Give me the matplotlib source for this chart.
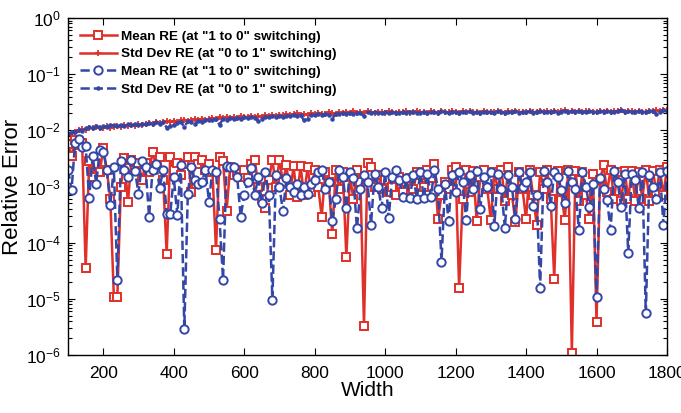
#!/usr/bin/env python3
"""Relative error of mean / std-dev vs. width for two switching directions."""

import matplotlib

matplotlib.use("Agg")
import matplotlib.pyplot as plt
import numpy as np
from matplotlib.ticker import FixedLocator, LogLocator, NullFormatter

FONT = ["Liberation Sans", "DejaVu Sans"]
plt.rcParams["font.family"] = FONT
plt.rcParams["mathtext.fontset"] = "custom"
plt.rcParams["mathtext.rm"] = "Liberation Sans"
plt.rcParams["mathtext.it"] = "Liberation Sans"

RED = "#e0302a"
BLUE = "#3446a6"

widths = np.arange(100, 1801, 10)

# values in units of 1e-3
red_mean_e3 = [
    5.6, 3.5, 6.7, 5.5, 6.0, 0.035, 2.8, 1.5, 2.5, 1.8,
    4.8, 2.0, 0.6, 0.011, 0.011, 1.0, 3.2, 0.52, 3.0, 2.0,
    2.6, 1.3, 2.6, 1.8, 4.2, 2.3, 3.4, 1.3, 0.064, 3.3,
    2.0, 2.6, 1.6, 2.5, 3.4, 0.8, 3.4, 2.5, 3.0, 2.0,
    2.5, 1.8, 0.074, 3.3, 2.9, 0.36, 2.2, 1.6, 1.8, 1.5,
    2.0, 1.4, 2.5, 3.0, 1.0, 0.6, 0.41, 1.3, 3.0, 1.0,
    3.0, 1.2, 2.4, 0.7, 2.3, 0.65, 2.3, 0.7, 2.2, 0.8,
    2.0, 1.0, 0.29, 1.8, 1.2, 0.14, 2.0, 0.9, 1.8, 0.055,
    1.5, 0.6, 2.0, 1.2, 0.0033, 2.6, 2.2, 1.0, 1.6, 0.9,
    1.3, 0.8, 1.0, 0.7, 1.5, 0.8, 1.2, 1.4, 0.9, 1.8,
    1.6, 1.0, 2.0, 1.4, 2.5, 0.26, 0.7, 1.2, 0.9, 2.0,
    2.2, 0.0155, 0.6, 2.0, 0.8, 1.9, 0.24, 1.5, 2.0, 0.9,
    0.25, 1.8, 0.9, 2.0, 0.56, 2.2, 0.7, 0.23, 1.8, 0.9,
    0.26, 2.0, 0.7, 0.21, 1.8, 0.9, 2.0, 0.6, 0.023, 1.9,
    0.8, 0.25, 2.0, 0.0011, 1.9, 0.55, 1.8, 0.7, 0.26, 1.7,
    0.0039, 1.3, 2.4, 0.8, 2.0, 0.6, 1.8, 0.55, 1.9, 0.6,
    1.9, 0.55, 1.8, 0.6, 2.0, 0.55, 1.9, 0.8, 2.0, 0.7,
    2.2,
]

blue_mean_e3 = [
    2.0, 0.87, 6.0, 7.0, 5.0, 5.2, 0.62, 3.5, 1.1, 4.5,
    4.2, 2.0, 0.47, 2.2, 0.022, 2.8, 2.0, 1.5, 3.0, 1.9,
    0.75, 2.8, 2.2, 0.29, 2.0, 2.5, 0.95, 2.0, 0.32, 0.32,
    1.5, 0.31, 2.4, 0.0029, 0.75, 2.2, 1.3, 1.1, 1.2, 2.0,
    0.54, 2.0, 1.8, 0.26, 0.022, 2.3, 2.2, 2.2, 1.5, 0.29,
    0.7, 1.2, 2.1, 0.7, 1.5, 0.5, 1.8, 0.7, 0.0097, 1.6,
    1.0, 0.36, 1.4, 1.0, 0.8, 1.1, 0.7, 1.0, 0.75, 1.1,
    1.3, 1.8, 2.0, 0.9, 1.2, 0.24, 0.6, 2.0, 1.5, 0.42,
    1.8, 1.4, 0.18, 0.9, 1.6, 1.2, 0.21, 1.7, 1.0, 0.42,
    1.8, 0.27, 1.5, 2.0, 1.3, 0.65, 1.4, 0.62, 1.6, 0.6,
    1.8, 0.62, 1.7, 0.65, 2.0, 0.9, 0.046, 1.1, 0.24, 1.6,
    0.8, 1.8, 1.2, 0.25, 1.6, 0.9, 1.9, 0.4, 1.5, 1.0,
    1.8, 0.2, 1.7, 0.9, 0.18, 1.6, 1.0, 0.26, 1.8, 1.0,
    1.2, 1.8, 0.45, 0.7, 0.0155, 1.9, 1.2, 0.45, 1.8, 1.5,
    0.85, 0.5, 1.9, 1.2, 0.9, 0.17, 1.8, 1.0, 0.43, 1.1,
    0.0107, 1.4, 0.9, 0.57, 0.17, 1.9, 1.2, 0.44, 1.7, 0.066,
    1.7, 1.3, 0.42, 1.8, 0.0055, 1.6, 1.0, 0.6, 1.8, 0.21,
    1.9,
]

# values in units of 1e-2
red_std_e2 = [
    0.83, 0.88, 0.95, 1.00, 1.05, 1.02, 1.12, 1.08, 1.15, 1.10,
    1.12, 1.18, 1.10, 1.15, 1.20, 1.13, 1.22, 1.18, 1.25, 1.20,
    1.28, 1.22, 1.30, 1.35, 1.28, 1.40, 1.33, 1.38, 1.45, 1.40,
    1.48, 1.42, 1.50, 1.55, 1.48, 1.52, 1.58, 1.50, 1.62, 1.55,
    1.60, 1.65, 1.58, 1.70, 1.63, 1.75, 1.68, 1.72, 1.65, 1.78,
    1.70, 1.75, 1.82, 1.72, 1.80, 1.76, 1.85, 1.78, 1.88, 1.82,
    1.90, 1.84, 1.95, 1.88, 1.92, 2.00, 1.90, 1.96, 1.88, 2.02,
    1.95, 2.05, 1.98, 1.92, 2.10, 2.00, 1.95, 2.08, 2.02, 2.15,
    2.05, 2.20, 2.00, 2.12, 2.05, 2.18, 2.08, 2.02, 2.15, 2.10,
    2.05, 2.18, 2.10, 2.00, 2.15, 2.08, 2.20, 2.05, 2.12, 2.18,
    2.08, 2.15, 2.02, 2.20, 2.10, 2.05, 2.18, 2.12, 2.08, 2.22,
    2.10, 2.05, 2.18, 2.12, 2.20, 2.08, 2.15, 2.05, 2.22, 2.10,
    2.15, 2.08, 2.20, 2.12, 2.05, 2.18, 2.10, 2.22, 2.08, 2.15,
    2.12, 2.20, 2.08, 2.15, 2.25, 2.10, 2.18, 2.12, 2.22, 2.08,
    2.18, 2.28, 2.12, 2.20, 2.15, 2.25, 2.10, 2.18, 2.22, 2.15,
    2.12, 2.20, 2.15, 2.25, 2.10, 2.18, 2.22, 2.30, 2.15, 2.20,
    2.18, 2.12, 2.22, 2.15, 2.10, 2.25, 2.20, 2.30, 2.18, 2.35,
    2.30,
]

blue_std_e2 = [
    0.85, 0.92, 0.95, 1.02, 0.98, 1.08, 1.15, 1.10, 1.18, 1.12,
    1.20, 1.15, 1.25, 1.22, 1.18, 1.25, 1.20, 1.28, 1.22, 1.30,
    1.25, 1.32, 1.28, 1.35, 1.30, 1.38, 1.32, 1.40, 1.12, 1.18,
    1.22, 1.35, 1.42, 1.15, 1.45, 1.40, 1.28, 1.48, 1.42, 1.50,
    1.55, 1.50, 1.58, 1.25, 1.62, 1.55, 1.65, 1.60, 1.68, 1.62,
    1.70, 1.65, 1.72, 1.68, 1.45, 1.60, 1.75, 1.70, 1.78, 1.72,
    1.80, 1.75, 1.82, 1.78, 1.85, 1.80, 1.88, 1.50, 1.62, 1.90,
    1.85, 1.92, 1.88, 1.95, 1.90, 1.62, 1.98, 1.92, 2.00, 1.95,
    2.02, 1.98, 2.05, 2.00, 1.80, 2.08, 2.02, 2.10, 2.05, 2.00,
    2.08, 2.02, 2.12, 2.05, 2.00, 2.10, 2.05, 2.15, 2.08, 2.02,
    2.05, 2.12, 2.00, 2.15, 2.08, 2.02, 2.18, 2.10, 2.05, 2.15,
    2.08, 2.02, 2.15, 2.10, 2.18, 2.05, 2.12, 2.00, 2.15, 2.08,
    2.12, 2.05, 2.18, 2.10, 2.02, 2.15, 2.08, 2.20, 2.05, 2.12,
    2.10, 2.18, 2.05, 2.12, 2.20, 2.08, 2.15, 2.10, 2.18, 2.05,
    2.15, 2.25, 2.10, 2.18, 2.12, 2.20, 2.08, 2.15, 2.20, 2.12,
    2.10, 2.18, 2.12, 2.22, 2.08, 2.15, 2.20, 2.28, 2.12, 2.18,
    2.15, 2.10, 2.20, 2.12, 2.08, 2.22, 2.18, 1.95, 2.15, 2.30,
    2.20,
]

labels = [
    'Mean RE (at "1 to 0" switching)',
    'Std Dev RE (at "0 to 1" switching)',
    'Mean RE (at "1 to 0" switching)',
    'Std Dev RE (at "0 to 1" switching)',
]

red_mean = np.asarray(red_mean_e3) * 1e-3
blue_mean = np.asarray(blue_mean_e3) * 1e-3
red_std = np.asarray(red_std_e2) * 1e-2
blue_std = np.asarray(blue_std_e2) * 1e-2

fig = plt.figure(figsize=(6.81, 4.13), dpi=100)
ax = fig.add_axes([0.0999, 0.1404, 0.8795, 0.816])

ax.plot(widths, red_mean, "-", color=RED, lw=1.8, marker="s", ms=6,
        mfc="white", mec=RED, mew=1.4, label=labels[0])
ax.plot(widths, red_std, "-", color=RED, lw=1.8, marker="+", ms=4.5,
        mew=1.3, label=labels[1])
ax.plot(widths, blue_mean, "--", color=BLUE, lw=1.8, marker="o", ms=6,
        mfc="white", mec=BLUE, mew=1.4, label=labels[2])
ax.plot(widths, blue_std, "--", color=BLUE, lw=1.8, marker=".", ms=4.5,
        label=labels[3])

ax.set_yscale("log")
ax.set_xlim(100, 1800)
ax.set_ylim(1e-6, 1e0)
ax.xaxis.set_major_locator(FixedLocator([200, 400, 600, 800, 1000, 1200, 1400, 1600, 1800]))
ax.yaxis.set_major_locator(LogLocator(base=10, numticks=10))
ax.yaxis.set_minor_locator(LogLocator(base=10, subs=np.arange(2, 10), numticks=20))
ax.yaxis.set_minor_formatter(NullFormatter())

ax.tick_params(which="both", direction="in", top=True, right=True, width=0.8)
ax.tick_params(which="major", length=5, labelsize=12.5, pad=5)
ax.tick_params(axis="x", which="major", pad=8)
ax.tick_params(which="minor", length=3)
for sp in ax.spines.values():
    sp.set_linewidth(1.0)

ax.set_xlabel("Width", fontsize=15, labelpad=0)
ax.set_ylabel("Relative Error", fontsize=16, labelpad=2)

leg = ax.legend(loc="upper left", frameon=False,
                prop={"family": FONT, "weight": "bold", "size": 9.7},
                handlelength=2.7, handletextpad=0.3, labelspacing=0.4,
                borderaxespad=0.7, borderpad=0.2)

fig.savefig("out.png", dpi=100)
